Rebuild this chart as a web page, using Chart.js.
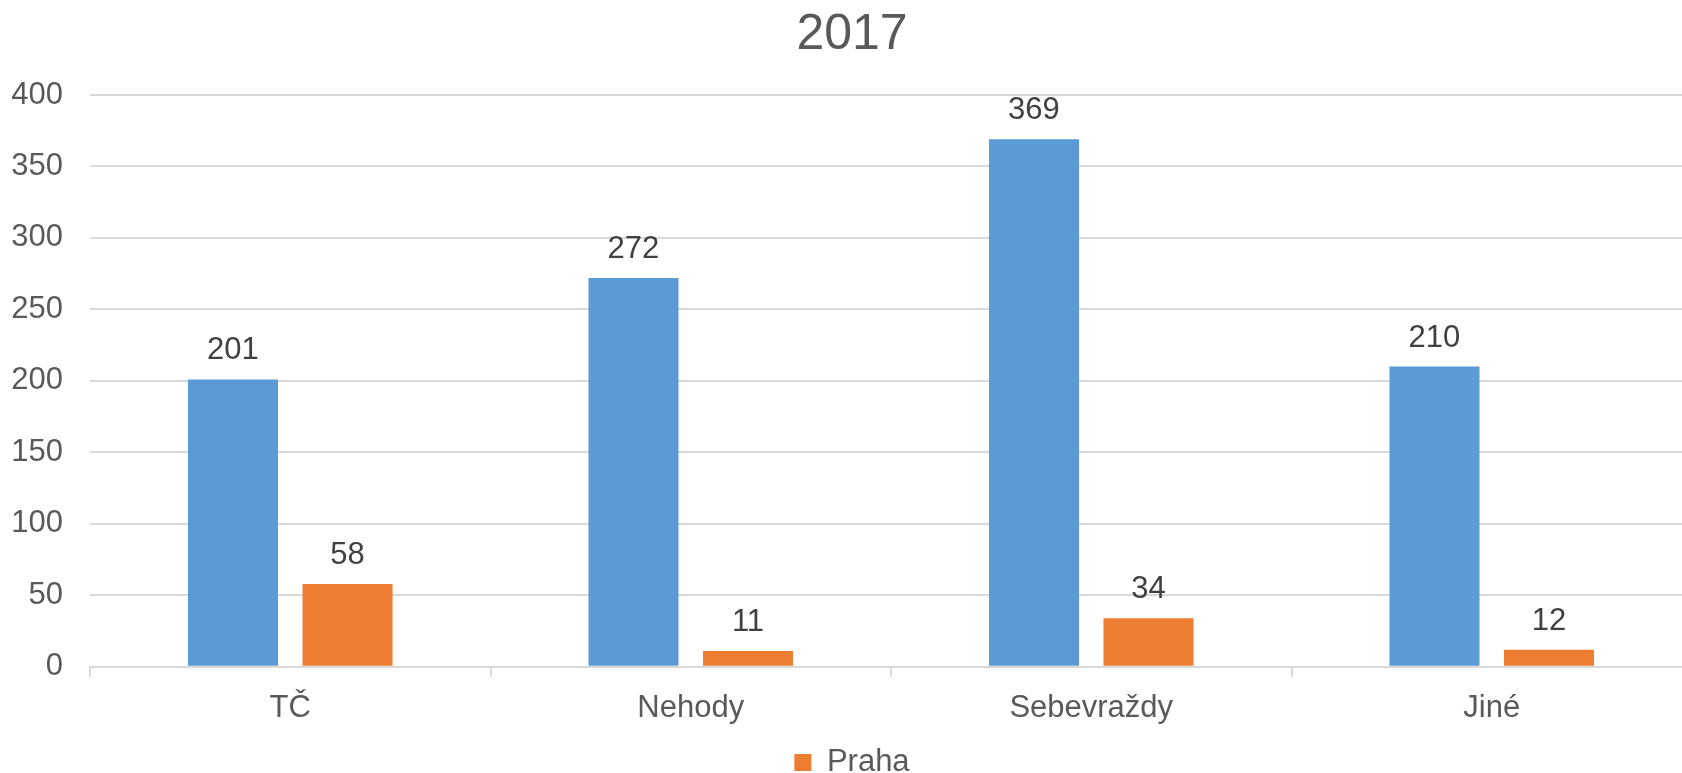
<!DOCTYPE html>
<html>
<head>
<meta charset="utf-8">
<script src="https://cdn.jsdelivr.net/npm/chart.js@4/dist/chart.umd.min.js"></script>
<style>
  html, body { margin: 0; padding: 0; background: #fff; overflow: hidden; }
  #wrap { width: 1682px; height: 773px; overflow: hidden; }
</style>
</head>
<body>
<div id="wrap"><canvas id="chart" width="1700" height="790"></canvas></div>
<script>
const TITLE = "2017";
const categories = ["TČ", "Nehody", "Sebevraždy", "Jiné"];
// blue series has no legend entry in the original
const totalValues = [201, 272, 369, 210];
const prahaValues = [58, 11, 34, 12];
const yMax = 400;
const yStep = 50;

const FONT = "'Liberation Sans', Arial, sans-serif";

// draws the value above each bar
const valueLabels = {
  id: "valueLabels",
  afterDatasetsDraw(chart) {
    const ctx = chart.ctx;
    ctx.save();
    ctx.font = "31px " + FONT;
    ctx.fillStyle = "#404040";
    ctx.textAlign = "center";
    ctx.textBaseline = "alphabetic";
    chart.data.datasets.forEach((ds, i) => {
      chart.getDatasetMeta(i).data.forEach((bar, j) => {
        ctx.fillText(ds.data[j], bar.x, bar.y - 20);
      });
    });
    ctx.restore();
  }
};

new Chart(document.getElementById("chart"), {
  type: "bar",
  data: {
    labels: categories,
    datasets: [
      {
        label: "",
        data: totalValues,
        backgroundColor: "#5B9BD5",
        categoryPercentage: 0.572,
        barPercentage: 0.786
      },
      {
        label: "Praha",
        data: prahaValues,
        backgroundColor: "#ED7D31",
        categoryPercentage: 0.572,
        barPercentage: 0.786
      }
    ]
  },
  options: {
    responsive: false,
    animation: false,
    layout: { padding: { left: 12, right: 8, top: 0, bottom: 2 } },
    plugins: {
      title: {
        display: true,
        text: TITLE,
        color: "#595959",
        font: { family: FONT, size: 50, weight: "normal" },
        padding: { top: 5, bottom: 30 }
      },
      legend: {
        position: "bottom",
        labels: {
          filter: item => item.text !== "",
          color: "#595959",
          font: { family: FONT, size: 31 },
          boxWidth: 17,
          boxHeight: 17,
          padding: 8
        }
      },
      tooltip: { enabled: false }
    },
    scales: {
      x: {
        afterFit: scale => { scale.height -= 1; },
        grid: {
          display: true,
          drawOnChartArea: false,
          offset: true,
          tickLength: 10,
          color: "#D9D9D9",
          lineWidth: 2
        },
        border: { color: "#D9D9D9", width: 2 },
        ticks: {
          color: "#595959",
          font: { family: FONT, size: 31 },
          padding: 13
        }
      },
      y: {
        min: 0,
        max: yMax,
        afterFit: scale => { scale.width = 78; },
        grid: { color: "#D9D9D9", lineWidth: 2, drawTicks: false },
        border: { display: false },
        ticks: {
          stepSize: yStep,
          color: "#595959",
          font: { family: FONT, size: 31 },
          padding: 27
        }
      }
    }
  },
  plugins: [valueLabels]
});
</script>
</body>
</html>
